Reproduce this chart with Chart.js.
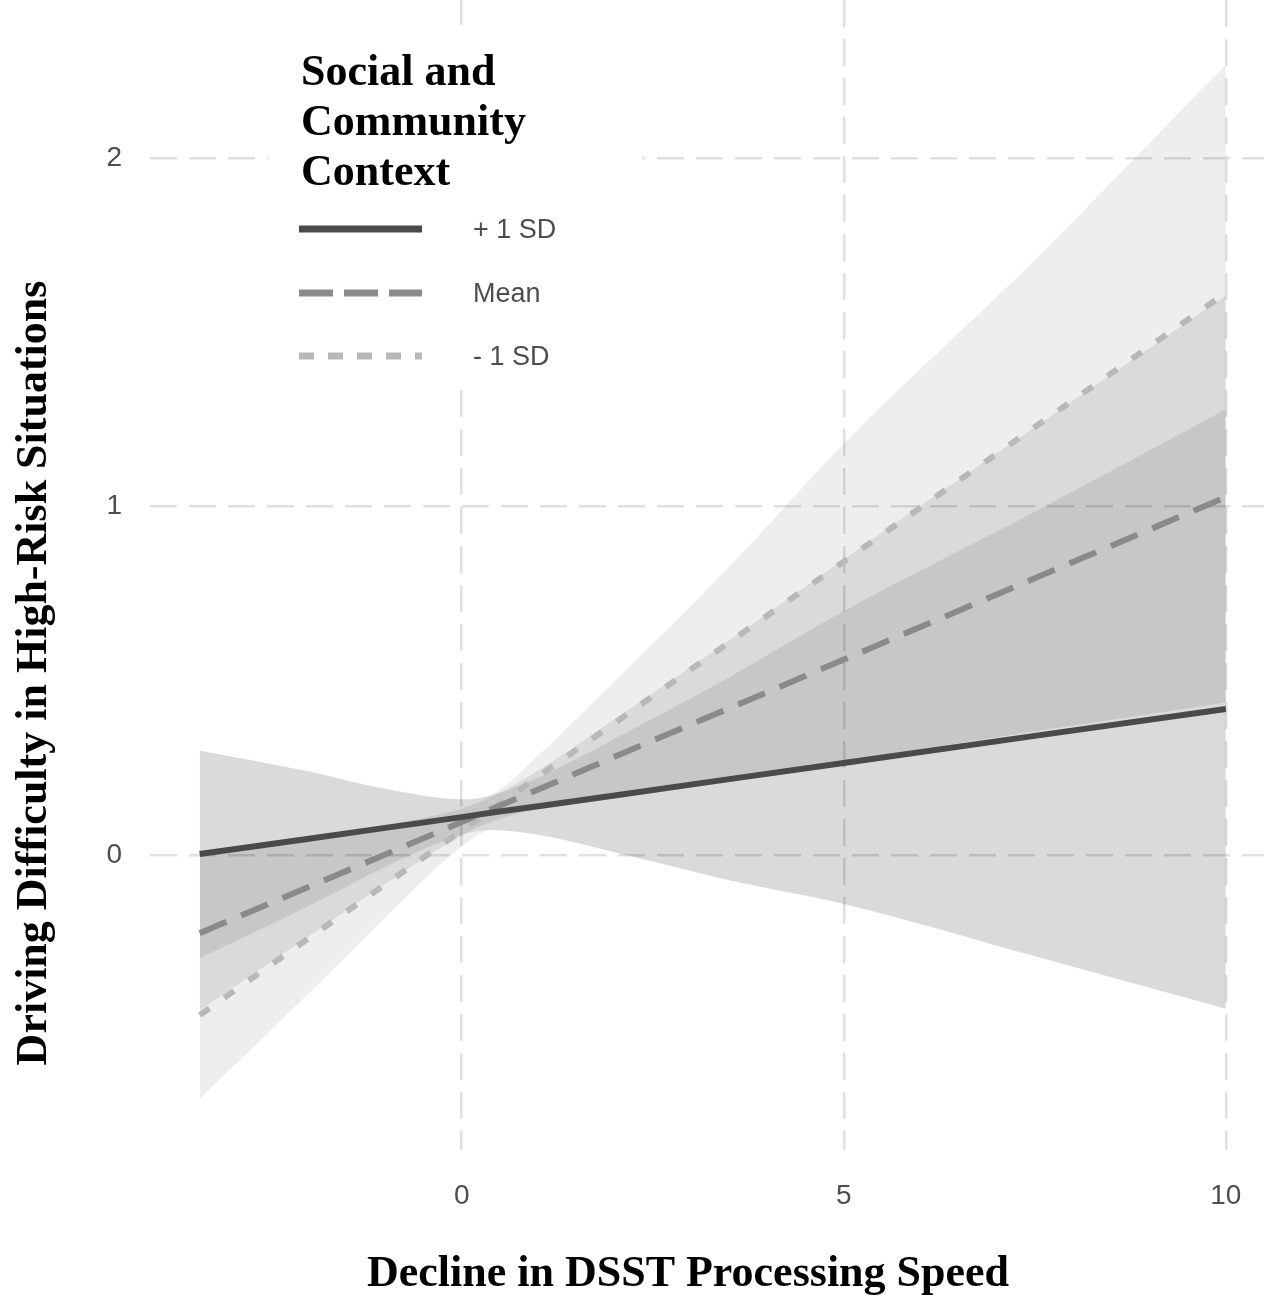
<!DOCTYPE html>
<html><head><meta charset="utf-8">
<script src="https://cdn.jsdelivr.net/npm/chart.js@4.4.1/dist/chart.umd.min.js"></script>
<style>html,body{margin:0;padding:0;background:#fff;overflow:hidden}canvas{display:block}</style>
</head><body>
<canvas id="c" width="1264" height="1297"></canvas>
<script>
// ---- data ----
const xValues      = [-3.43, -2, -1, 0, 0.4, 1, 2, 3.5, 5, 7.5, 10];
const plusSDLine   = [0.003, 0.047, 0.078, 0.109, 0.122, 0.140, 0.171, 0.218, 0.264, 0.342, 0.419];
const plusSDUpper  = [0.300, 0.240, 0.190, 0.160, 0.172, 0.222, 0.334, 0.510, 0.700, 0.985, 1.279];
const plusSDLower  = [-0.296, -0.146, -0.034, 0.058, 0.072, 0.058, 0.008, -0.072, -0.140, -0.290, -0.441];
const meanLine     = [-0.224, -0.091, 0.002, 0.095, 0.133, 0.188, 0.282, 0.421, 0.561, 0.794, 1.027];
const meanUpper    = [0.004, 0.051, 0.087, 0.134, 0.169, 0.243, 0.390, 0.616, 0.849, 1.228, 1.605];
const meanLower    = [-0.445, -0.233, -0.083, 0.056, 0.097, 0.133, 0.174, 0.226, 0.270, 0.355, 0.438];
const minusSDLine  = [-0.459, -0.238, -0.084, 0.070, 0.132, 0.225, 0.379, 0.610, 0.842, 1.228, 1.613];
const outerUpper   = [0.300, 0.240, 0.190, 0.160, 0.175, 0.286, 0.499, 0.827, 1.180, 1.708, 2.267];
const outerLower   = [-0.699, -0.396, -0.179, 0.025, 0.072, 0.058, 0.008, -0.072, -0.140, -0.290, -0.441];
const xTicks = [0, 5, 10];
const yTicks = [0, 1, 2];
const seriesLabels = ['+ 1 SD', 'Mean', '- 1 SD'];
const legendTitle = ['Social and', 'Community', 'Context'];
const xTitle = 'Decline in DSST Processing Speed';
const yTitle = 'Driving Difficulty in High-Risk Situations';

const pts = arr => xValues.map((x, i) => ({x: x, y: arr[i]}));

function lineDs(label, arr, color, dash, width, legendDash) {
  return {label, data: pts(arr), borderColor: color, borderWidth: width, borderDash: dash,
    legendDash: legendDash, isSeries: true, pointRadius: 0, fill: false, tension: 0,
    borderCapStyle: 'butt', order: 0};
}
function bandDs(label, arr, fillColor, fillTo) {
  return {label, data: pts(arr), borderWidth: 0, borderColor: 'rgba(0,0,0,0)', backgroundColor: fillColor,
    pointRadius: 0, fill: fillTo, cubicInterpolationMode: 'monotone', order: 10};
}

const datasets = [
  lineDs(seriesLabels[0], plusSDLine, '#4a4a4a', [], 6, []),
  lineDs(seriesLabels[1], meanLine, '#8a8a8a', [29, 16], 6, [34, 11]),
  lineDs(seriesLabels[2], minusSDLine, '#b8b8b8', [12, 18], 6, [15, 14]),
  bandDs('outer upper', outerUpper, 'rgba(0,0,0,0.067)', '+1'),
  bandDs('outer lower', outerLower, 'rgba(0,0,0,0)', false),
  bandDs('+1 SD upper', plusSDUpper, 'rgba(0,0,0,0.088)', '+1'),
  bandDs('+1 SD lower', plusSDLower, 'rgba(0,0,0,0)', false),
  bandDs('Mean upper', meanUpper, 'rgba(0,0,0,0.088)', '+1'),
  bandDs('Mean lower', meanLower, 'rgba(0,0,0,0)', false)
];

const legendBgPlugin = {
  id: 'legendBg',
  beforeDatasetsDraw(chart) {
    const ctx = chart.ctx;
    ctx.save();
    ctx.fillStyle = '#ffffff';
    ctx.fillRect(268, 25, 374, 360);
    ctx.restore();
  }
};

const decorPlugin = {
  id: 'decor',
  afterDraw(chart) {
    const ctx = chart.ctx;
    ctx.save();
    ctx.fillStyle = '#000000';
    ctx.font = 'bold 44px "Liberation Serif", "Times New Roman", serif';
    ctx.textAlign = 'left';
    ctx.textBaseline = 'alphabetic';
    legendTitle.forEach((t, i) => ctx.fillText(t, 301, 85 + i * 50));
    const keyY = [229, 293, 356];
    const series = chart.data.datasets.filter(d => d.isSeries);
    series.forEach((d, i) => {
      ctx.beginPath();
      ctx.strokeStyle = d.borderColor;
      ctx.lineWidth = 7;
      ctx.lineCap = 'butt';
      ctx.setLineDash(d.legendDash || []);
      ctx.moveTo(299, keyY[i]);
      ctx.lineTo(422, keyY[i]);
      ctx.stroke();
      ctx.setLineDash([]);
      ctx.fillStyle = '#4d4d4d';
      ctx.font = '27px "Liberation Sans", Arial, sans-serif';
      ctx.textBaseline = 'middle';
      ctx.fillText(d.label, 473, keyY[i] + 2);
    });
    ctx.fillStyle = '#000000';
    ctx.font = 'bold 44px "Liberation Serif", "Times New Roman", serif';
    ctx.textAlign = 'center';
    ctx.textBaseline = 'alphabetic';
    ctx.fillText(xTitle, 688, 1286);
    ctx.translate(46, 673);
    ctx.rotate(-Math.PI / 2);
    ctx.fillText(yTitle, 0, 0);
    ctx.restore();
  }
};

const gridCommon = {color: '#e0e0e0', lineWidth: 2.5, drawTicks: false};
const borderCommon = {display: false, dash: [27, 12]};
const tickFont = {family: '"Liberation Sans", Arial, sans-serif', size: 28};
const zeroPad = s => { s.paddingTop = 0; s.paddingBottom = 0; s.paddingLeft = 0; s.paddingRight = 0; };

new Chart(document.getElementById('c'), {
  type: 'line',
  data: {datasets},
  options: {
    responsive: false,
    animation: false,
    devicePixelRatio: 1,
    layout: {padding: 0},
    plugins: {legend: {display: false}, tooltip: {enabled: false}},
    scales: {
      x: {
        type: 'linear', min: -4.08, max: 10.5,
        grid: gridCommon, border: borderCommon,
        afterBuildTicks: s => { s.ticks = xTicks.map(v => ({value: v})); },
        afterFit: s => { s.height = 147; zeroPad(s); },
        ticks: {color: '#4d4d4d', font: tickFont, padding: 29, maxRotation: 0,
          callback: v => String(v)}
      },
      y: {
        type: 'linear', min: -0.846, max: 2.453,
        grid: gridCommon, border: borderCommon,
        afterBuildTicks: s => { s.ticks = yTicks.map(v => ({value: v})); },
        afterFit: s => { s.width = 150; zeroPad(s); },
        ticks: {color: '#4d4d4d', font: tickFont, padding: 28,
          callback: v => String(v)}
      }
    }
  },
  plugins: [legendBgPlugin, decorPlugin]
});
</script>
</body></html>
